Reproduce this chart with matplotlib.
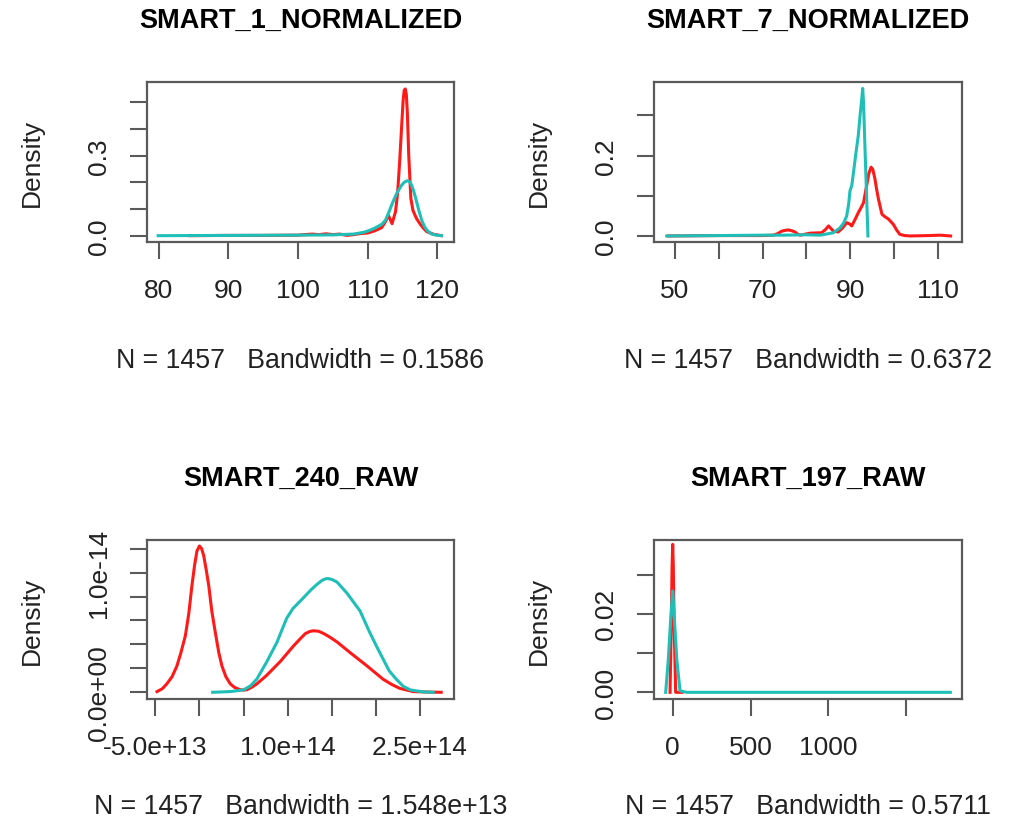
import matplotlib
matplotlib.use("Agg")
import matplotlib.pyplot as plt
import numpy as np

plt.rcParams["font.family"] = ["Liberation Sans", "DejaVu Sans"]

RED = "#ff1a1a"
TEAL = "#1fbfb8"
BOX = "#5a5a5a"

# ---- SMART_1_NORMALIZED ----
s1_red_x = [84.5, 90, 95, 100, 102, 103, 104, 105, 106, 107, 108, 109, 110, 111, 112, 112.5,
            113.0, 113.5, 114.0, 114.3, 114.6, 114.9, 115.1, 115.25, 115.4, 115.55, 115.7,
            115.9, 116.2, 116.5, 117.0, 117.5, 118.0, 118.5, 119.5, 120.6]
s1_red_y = [0.0, 0.001, 0.001, 0.002, 0.006, 0.004, 0.007, 0.004, 0.006, 0.001, 0.004, 0.008,
            0.010, 0.018, 0.030, 0.050, 0.075, 0.045, 0.09, 0.16, 0.28, 0.42, 0.51, 0.545,
            0.55, 0.53, 0.46, 0.30, 0.14, 0.095, 0.065, 0.045, 0.028, 0.015, 0.005, 0.0]
s1_teal_x = [79.9, 90, 100, 105, 108, 109.5, 110.2, 111, 112.1, 112.6, 113.0, 113.6, 114.2,
             114.9, 115.3, 115.7, 116.0, 116.3, 116.6, 116.9, 117.4, 117.8, 118.2, 118.6,
             119.2, 119.9, 120.6]
s1_teal_y = [0.0, 0.001, 0.002, 0.003, 0.006, 0.013, 0.019, 0.028, 0.044, 0.06, 0.085, 0.125,
             0.16, 0.19, 0.201, 0.206, 0.203, 0.19, 0.168, 0.14, 0.09, 0.055, 0.032, 0.018,
             0.006, 0.002, 0.0]

# ---- SMART_7_NORMALIZED ----
s7_red_x = [48.5, 60, 70, 72.5, 73.5, 74.4, 75.2, 75.9, 76.7, 77.4, 78.0, 78.6, 80.9, 83.5,
            84.4, 85.1, 85.7, 86.2, 87.3, 88.3, 89.25, 89.9, 90.4, 91.2, 91.9, 92.5, 93.1,
            93.8, 94.3, 94.8, 95.2, 95.7, 96.1, 96.5, 97.3, 98.1, 98.8, 99.9, 100.7, 101.4,
            102.5, 103.7, 108, 110.6, 113.0]
s7_red_y = [0.0, 0.001, 0.001, 0.002, 0.006, 0.012, 0.014, 0.015, 0.013, 0.010, 0.005, 0.002,
            0.007, 0.008, 0.016, 0.025, 0.018, 0.012, 0.010, 0.020, 0.033, 0.030, 0.025,
            0.042, 0.058, 0.070, 0.083, 0.125, 0.155, 0.171, 0.166, 0.142, 0.115, 0.092,
            0.054, 0.047, 0.042, 0.029, 0.014, 0.004, 0.001, 0.0, 0.001, 0.002, 0.0]
s7_teal_x = [48.1, 60, 70, 75, 80, 83.2, 86.2, 87.7, 88.6, 89.25, 89.7, 90.0, 90.4, 90.8,
             91.4, 91.9, 92.3, 92.7, 92.9, 93.1, 93.3, 93.7, 94.1]
s7_teal_y = [0.0, 0.001, 0.002, 0.002, 0.003, 0.002, 0.008, 0.02, 0.033, 0.05, 0.08, 0.1125,
             0.125, 0.158, 0.21, 0.25, 0.30, 0.342, 0.367, 0.33, 0.26, 0.13, 0.0]

# ---- SMART_240_RAW (x in 1e13, y in 1e-14) ----
s240_red_x = [-4.8, -4.2, -3.7, -3.1, -2.55, -2.1, -1.6, -1.2, -0.85, -0.55, -0.28, 0.0, 0.25,
              0.49, 0.8, 1.06, 1.4, 1.8, 2.2, 2.55, 3.0, 3.5, 4.0, 4.6, 5.0, 5.4, 6.0, 6.5,
              7.6, 8.4, 9.2, 10.0, 10.7, 11.4, 12.0, 12.5, 12.9, 13.5, 14.1, 14.8, 15.6,
              17.1, 19.0, 20.8, 21.8, 22.7, 24.2, 25.8, 27.4]
s240_red_y = [0.006, 0.03, 0.07, 0.13, 0.22, 0.33, 0.47, 0.66, 0.89, 1.06, 1.18, 1.222, 1.2,
              1.14, 1.01, 0.89, 0.68, 0.50, 0.33, 0.22, 0.13, 0.07, 0.04, 0.022, 0.018,
              0.022, 0.045, 0.07, 0.14, 0.20, 0.26, 0.33, 0.39, 0.445, 0.49, 0.508, 0.514,
              0.51, 0.49, 0.46, 0.42, 0.33, 0.22, 0.11, 0.065, 0.033, 0.006, 0.002, 0.0]
s240_teal_x = [1.5, 3.5, 5.0, 5.8, 6.5, 7.6, 8.8, 9.4, 9.9, 10.6, 11.4, 12.7, 13.3, 13.9,
               14.3, 14.6, 15.1, 15.6, 16.7, 18.2, 19.3, 20.1, 20.8, 21.5, 22.3, 23.1, 23.9,
               25.4, 26.5]
s240_teal_y = [0.0, 0.006, 0.02, 0.055, 0.11, 0.25, 0.42, 0.53, 0.62, 0.70, 0.76, 0.86, 0.90,
               0.935, 0.948, 0.95, 0.94, 0.92, 0.83, 0.68, 0.50, 0.38, 0.28, 0.18, 0.11,
               0.05, 0.02, 0.003, 0.0]

# ---- SMART_197_RAW ----
s197_red_x = [-17, -8.5, -4, 0, 4, 8.5, 19, 60]
s197_red_y = [0.0, 0.0186, 0.032, 0.0377, 0.032, 0.0186, 0.0, 0.0]
s197_teal_x = [-45, -28, -13, 0, 11, 26, 47, 90, 400, 800, 1200, 1600, 1782]
s197_teal_y = [0.0, 0.0085, 0.0186, 0.0258, 0.0186, 0.0085, 0.0004, 0.0, 0.0, 0.0, 0.0, 0.0, 0.0]

panels = [
    dict(title="SMART_1_NORMALIZED", sub="N = 1457   Bandwidth = 0.1586",
         red=(s1_red_x, s1_red_y), teal=(s1_teal_x, s1_teal_y), scale=(1, 1),
         xticks=[80, 90, 100, 110, 120], xlabels=["80", "90", "100", "110", "120"],
         yticks=[0, 0.1, 0.2, 0.3, 0.4, 0.5], ylabels=["0.0", "", "", "0.3", "", ""],
         xlim=(78.3, 122.4), ylim=(-0.0237, 0.576)),
    dict(title="SMART_7_NORMALIZED", sub="N = 1457   Bandwidth = 0.6372",
         red=(s7_red_x, s7_red_y), teal=(s7_teal_x, s7_teal_y), scale=(1, 1),
         xticks=[50, 60, 70, 80, 90, 100, 110], xlabels=["50", "", "70", "", "90", "", "110"],
         yticks=[0, 0.1, 0.2, 0.3], ylabels=["0.0", "", "0.2", ""],
         xlim=(45.2, 115.6), ylim=(-0.015, 0.383)),
    dict(title="SMART_240_RAW", sub="N = 1457   Bandwidth = 1.548e+13",
         red=(s240_red_x, s240_red_y), teal=(s240_teal_x, s240_teal_y), scale=(1e13, 1e-14),
         xticks=[-5e13, 0, 5e13, 1e14, 1.5e14, 2e14, 2.5e14],
         xlabels=["-5.0e+13", "", "", "1.0e+14", "", "", "2.5e+14"],
         yticks=[0, 2e-15, 4e-15, 6e-15, 8e-15, 1e-14, 1.2e-14],
         ylabels=["0.0e+00", "", "", "", "", "1.0e-14", ""],
         xlim=(-5.94e13, 2.885e14), ylim=(-0.056e-14, 1.272e-14)),
    dict(title="SMART_197_RAW", sub="N = 1457   Bandwidth = 0.5711",
         red=(s197_red_x, s197_red_y), teal=(s197_teal_x, s197_teal_y), scale=(1, 1),
         xticks=[0, 500, 1000, 1500], xlabels=["0", "500", "1000", ""],
         yticks=[0, 0.01, 0.02, 0.03], ylabels=["0.00", "", "0.02", ""],
         xlim=(-120, 1857), ylim=(-0.0017, 0.0388)),
]

W, H = 1015, 828
boxes = [(147, 454, 83, 243), (654, 962, 83, 243), (147, 454, 541, 700), (654, 962, 541, 700)]
sub_y = [-0.655, -0.655, -0.59, -0.59]

fig = plt.figure(figsize=(W / 100, H / 100), dpi=100)
for p, (x0, x1, y0, y1), sy_lab in zip(panels, boxes, sub_y):
    ax = fig.add_axes([x0 / W, 1 - y1 / H, (x1 - x0) / W, (y1 - y0) / H])
    sx, sy = p["scale"]
    ax.plot(np.array(p["red"][0]) * sx, np.array(p["red"][1]) * sy, color=RED, lw=2.2,
            solid_joinstyle="round")
    ax.plot(np.array(p["teal"][0]) * sx, np.array(p["teal"][1]) * sy, color=TEAL, lw=2.2,
            solid_joinstyle="round")
    ax.set_xlim(*p["xlim"])
    ax.set_ylim(*p["ylim"])
    ax.set_xticks(p["xticks"])
    ax.set_xticklabels(p["xlabels"])
    ax.set_yticks(p["yticks"])
    ax.set_yticklabels(p["ylabels"], rotation=90, va="center")
    ax.tick_params(direction="out", length=12, width=1.5, color=BOX, labelsize=19,
                   labelcolor="#222222", pad=14)
    for s in ax.spines.values():
        s.set_color(BOX)
        s.set_linewidth(1.6)
    ax.set_title(p["title"], fontsize=19.5, fontweight="bold", pad=40)
    ax.set_xlabel(p["sub"], fontsize=19.3, color="#222222")
    ax.xaxis.set_label_coords(0.5, sy_lab)
    ax.set_ylabel("Density", fontsize=19, color="#222222")
    ax.yaxis.set_label_coords(-0.335, 0.5)

fig.savefig("out.png", dpi=100)
